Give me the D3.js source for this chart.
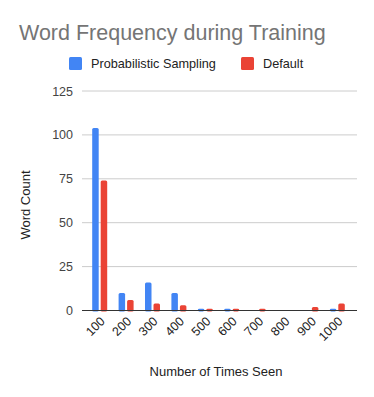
<!DOCTYPE html>
<html>
<head>
<meta charset="utf-8">
<script src="https://cdn.jsdelivr.net/npm/d3@7"></script>
<style>
  body { margin: 0; background: #fff; }
  text { font-family: Arial, "Liberation Sans", sans-serif; }
</style>
</head>
<body>
<div id="chart"></div>
<script>
const categories = ['100', '200', '300', '400', '500', '600', '700', '800', '900', '1000'];
const probabilistic = [104, 10, 16, 10, 1, 1, 0, 0, 0, 1];
const defaults = [74, 6, 4, 3, 1, 1, 1, 0, 2, 4];
const yTicks = [0, 25, 50, 75, 100, 125];
const seriesNames = ['Probabilistic Sampling', 'Default'];
const colors = ['#4285f4', '#ea4335'];

const width = 374, height = 397;
const plot = { left: 82, right: 357, top: 91, bottom: 310.5 };

const svg = d3.select('#chart').append('svg')
    .attr('width', width)
    .attr('height', height);

svg.append('text')
    .attr('x', 19).attr('y', 40)
    .attr('fill', '#757575')
    .style('font-size', '21.5px')
    .text('Word Frequency during Training');

// legend
const legendX = [69, 241];
seriesNames.forEach((name, i) => {
    svg.append('rect')
        .attr('x', legendX[i]).attr('y', 57)
        .attr('width', 13).attr('height', 13)
        .attr('rx', 1.5)
        .attr('fill', colors[i]);
    svg.append('text')
        .attr('x', legendX[i] + 22).attr('y', 68)
        .attr('fill', '#222')
        .style('font-size', '12.7px')
        .text(name);
});

const x = d3.scaleBand()
    .domain(categories)
    .range([86.5, 350.5]);

const y = d3.scaleLinear()
    .domain([0, 125])
    .range([plot.bottom, plot.top]);

// gridlines
svg.append('g').selectAll('line')
    .data(yTicks.filter(d => d > 0))
    .join('line')
    .attr('x1', plot.left).attr('x2', plot.right)
    .attr('y1', d => y(d)).attr('y2', d => y(d))
    .attr('stroke', '#cccccc')
    .attr('stroke-width', 1);

// y tick labels
svg.append('g').selectAll('text')
    .data(yTicks)
    .join('text')
    .attr('x', 73)
    .attr('y', d => y(d) + 4.5)
    .attr('text-anchor', 'end')
    .attr('fill', '#444')
    .style('font-size', '12.5px')
    .text(d => d);

const barW = 6.5, gap = 2;
const series = [probabilistic, defaults];
series.forEach((vals, s) => {
    svg.append('g').selectAll('rect')
        .data(vals.map((v, i) => ({ cat: categories[i], v })))
        .join('rect')
        .filter(d => d.v > 0)
        .attr('x', d => x(d.cat) + x.bandwidth() / 2 - barW - gap / 2 + s * (barW + gap))
        .attr('y', d => y(d.v))
        .attr('width', barW)
        .attr('height', d => y(0) - y(d.v) + 1)
        .attr('rx', 1.5)
        .attr('fill', colors[s]);
});

// baseline
svg.append('line')
    .attr('x1', plot.left).attr('x2', plot.right)
    .attr('y1', y(0)).attr('y2', y(0))
    .attr('stroke', '#333')
    .attr('stroke-width', 1);

// x tick labels
svg.append('g').selectAll('text')
    .data(categories)
    .join('text')
    .attr('text-anchor', 'end')
    .attr('transform', d => `translate(${x(d) + x.bandwidth() / 2 + 6},${322}) rotate(-45)`)
    .attr('fill', '#222')
    .style('font-size', '12.5px')
    .text(d => d);

svg.append('text')
    .attr('x', 216).attr('y', 376)
    .attr('text-anchor', 'middle')
    .attr('fill', '#222')
    .style('font-size', '13px')
    .text('Number of Times Seen');

svg.append('text')
    .attr('transform', `translate(30,205) rotate(-90)`)
    .attr('text-anchor', 'middle')
    .attr('fill', '#222')
    .style('font-size', '13px')
    .text('Word Count');
</script>
</body>
</html>
